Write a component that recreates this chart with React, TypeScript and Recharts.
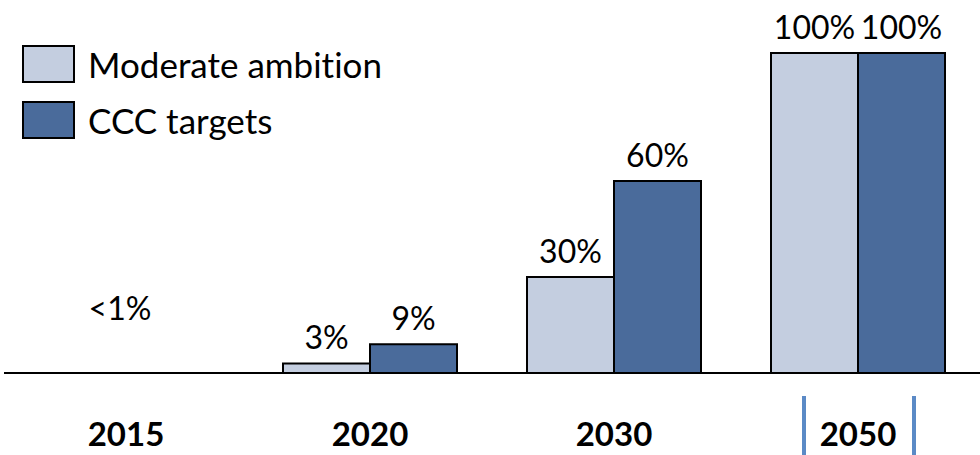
import React from 'react';
import { BarChart, Bar, XAxis, YAxis, LabelList } from 'recharts';

const years = ['2015', '2020', '2030', '2050'];
const moderate = [0, 3, 30, 100];
const ccc = [0, 9, 60, 100];
const smallNote = '<1%';
const highlightYear = '2050';

const series = [
    { key: 'moderate', name: 'Moderate ambition', color: '#c4cee0' },
    { key: 'ccc', name: 'CCC targets', color: '#4a6b9b' },
];

const chartData = years.map((year, i) => ({
    year,
    moderate: moderate[i],
    ccc: ccc[i],
}));

const FONT = 'Lato, "Open Sans", sans-serif';
const noLig = { fontVariantLigatures: 'none' } as React.CSSProperties;

const YearTick = (props: any) => {
    const { x, y, payload } = props;
    const isFirst = payload.value === years[0];
    const isHighlight = payload.value === highlightYear;
    return (
        <g>
            <text x={x} y={y + 65} textAnchor="middle" fontFamily={FONT} fontWeight={700} fontSize={33} fill="#000">
                {payload.value}
            </text>
            {isFirst && (
                <text x={x - 6} y={y - 61} textAnchor="middle" fontFamily={FONT} fontSize={32} fill="#000">
                    {smallNote}
                </text>
            )}
            {isHighlight && (
                <g stroke="#5b8ac6" strokeWidth={4}>
                    <line x1={x - 54} x2={x - 54} y1={y + 15} y2={y + 90} />
                    <line x1={x + 56} x2={x + 56} y1={y + 15} y2={y + 90} />
                </g>
            )}
        </g>
    );
};

const PctLabel = (props: any) => {
    const { x, y, width, value } = props;
    if (!value) return null;
    return (
        <text x={x + width / 2} y={y - 14} textAnchor="middle" fontFamily={FONT} fontSize={32} fill="#000">
            {`${value}%`}
        </text>
    );
};

const App: React.FC = () => {
    return (
        <div style={{ position: 'absolute', left: 0, top: 0, width: 980, height: 455, background: '#fff' }}>
            <BarChart
                width={980}
                height={455}
                data={chartData}
                margin={{ top: 53, right: 0, left: 4, bottom: 0 }}
                barGap={0}
            >
                <XAxis
                    dataKey="year"
                    height={82}
                    axisLine={{ stroke: '#000', strokeWidth: 2 }}
                    tickLine={false}
                    tick={<YearTick />}
                    interval={0}
                />
                <YAxis hide domain={[0, 100]} />
                {series.map(s => (
                    <Bar
                        key={s.key}
                        dataKey={s.key}
                        name={s.name}
                        fill={s.color}
                        stroke="#000"
                        strokeWidth={2}
                        barSize={87}
                        isAnimationActive={false}
                    >
                        <LabelList dataKey={s.key} content={<PctLabel />} />
                    </Bar>
                ))}
            </BarChart>
            <div style={{ position: 'absolute', left: 22, top: 45, fontFamily: FONT, ...noLig }}>
                {series.map((s, i) => (
                    <div key={s.key} style={{ display: 'flex', alignItems: 'center', height: 38, marginBottom: i === 0 ? 18 : 0 }}>
                        <div style={{ width: 49, height: 34, background: s.color, border: '2px solid #000' }} />
                        <span style={{ marginLeft: 13, fontSize: 35, color: '#000', lineHeight: '38px', whiteSpace: 'nowrap' }}>{s.name}</span>
                    </div>
                ))}
            </div>
        </div>
    );
};

export default App;
